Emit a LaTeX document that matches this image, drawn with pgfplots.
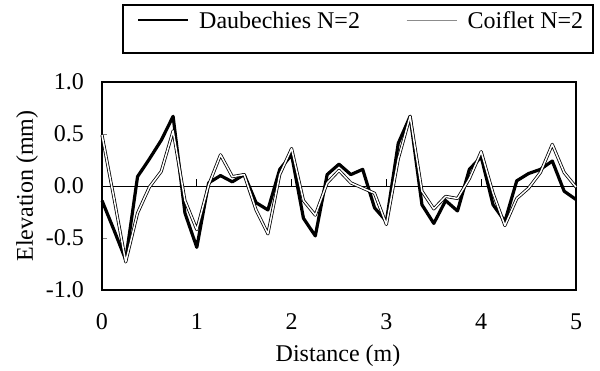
\documentclass[border=0pt]{standalone}
\usepackage{pgfplots}
\pgfplotsset{compat=1.18}
\usepackage{pgfplotstable}
\usepackage{fontspec}
\setmainfont{Liberation Serif}
\pgfplotstableread{
x      d      c
0.000 -0.14  0.49
0.125 -0.42 -0.11
0.250 -0.71 -0.73
0.375  0.09 -0.26
0.500  0.26 -0.01
0.625  0.44  0.14
0.750  0.67  0.53
0.875 -0.26 -0.14
1.000 -0.59 -0.42
1.125  0.03  0.01
1.250  0.10  0.30
1.375  0.04  0.09
1.500  0.11  0.11
1.625 -0.16 -0.23
1.750 -0.23 -0.46
1.875  0.16  0.11
2.000  0.30  0.36
2.125 -0.31 -0.14
2.250 -0.48 -0.28
2.375  0.11  0.03
2.500  0.21  0.15
2.625  0.11  0.03
2.750  0.16 -0.02
2.875 -0.21 -0.07
3.000 -0.34 -0.37
3.125  0.41  0.26
3.250  0.67  0.67
3.375 -0.18 -0.05
3.500 -0.36 -0.22
3.625 -0.14 -0.10
3.750 -0.24 -0.12
3.875  0.16  0.07
4.000  0.28  0.33
4.125 -0.18 -0.07
4.250 -0.34 -0.38
4.375  0.05 -0.12
4.500  0.12 -0.02
4.625  0.16  0.13
4.750  0.24  0.40
4.875 -0.05  0.13
5.000 -0.13 -0.01
}\datatable
\begin{document}
\begin{tikzpicture}
\useasboundingbox (-102pt,-80pt) rectangle (498pt,290pt);
\begin{axis}[
  scale only axis,
  width=474pt, height=208pt,
  at={(0pt,0pt)}, anchor=south west,
  clip=false,
  xmin=0, xmax=5, ymin=-1, ymax=1,
  axis line style={line width=2.2pt},
  font=\fontsize{24}{28}\selectfont,
  xtick={0,1,2,3,4,5},
  xticklabels={0,1,2,3,4,5},
  xtick style={draw=none},
  major tick length=5pt,
  ytick={-1,-0.5,0,0.5,1},
  yticklabels={-1.0,-0.5,0.0,0.5,1.0},
  ytick pos=left,
  tick align=inside,
  ytick style={line width=0.8pt},
  xticklabel style={anchor=center, inner sep=0pt, yshift=-32pt},
  yticklabel style={anchor=east, inner sep=0pt, xshift=-18pt},
  xlabel={Distance (m)},
  ylabel={Elevation (mm)},
  xlabel style={at={(axis description cs:0.498,-0.346)}, anchor=base},
  ylabel style={at={(axis description cs:-0.1456,0.5)}, anchor=base, rotate=0},
  legend columns=2,
  legend style={at={(axis description cs:0.0443,1.370)}, anchor=north west,
    draw=none, fill=none, inner xsep=14pt, inner ysep=4pt,
    font=\fontsize{24}{28}\selectfont,
    /tikz/every even column/.append style={column sep=44pt},
    cells={anchor=west}},
  legend image code/.code={\draw[#1] (0pt,0pt) -- (50pt,0pt); \path (58pt,0pt);},
]
\draw[line width=1.8pt] (axis description cs:0.0443,1.3702) rectangle (axis description cs:1.0359,1.1394);
\draw[line width=0.9pt] (axis cs:0,0) -- (axis cs:5,0);
\draw[line width=0.9pt] (axis cs:1,0) -- ++(0pt,7pt);
\draw[line width=0.9pt] (axis cs:2,0) -- ++(0pt,7pt);
\draw[line width=0.9pt] (axis cs:3,0) -- ++(0pt,7pt);
\draw[line width=0.9pt] (axis cs:4,0) -- ++(0pt,7pt);
\addplot[black, line width=3.2pt, line join=round, forget plot] table[x=x,y=d]{\datatable};
\addplot[black, line width=0.8pt, double=white, double distance=1.5pt, line join=round, forget plot] table[x=x,y=c]{\datatable};
\addlegendimage{draw=black, line width=2pt}
\addlegendentry{Daubechies N=2}
\addlegendimage{draw=black, line width=0.5pt, double=white!55!black, double distance=0.6pt}
\addlegendentry{Coiflet N=2}
\end{axis}
\end{tikzpicture}
\end{document}
